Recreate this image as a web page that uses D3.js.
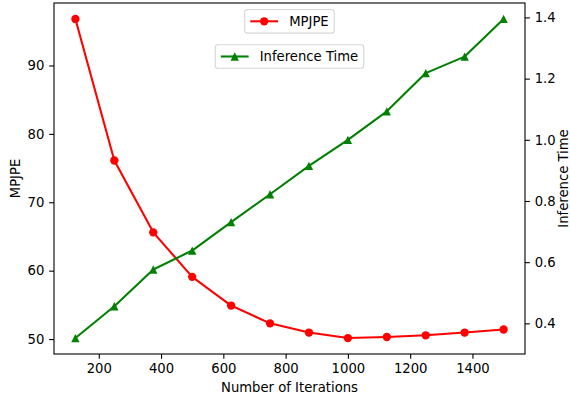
<!DOCTYPE html>
<html>
<head>
<meta charset="utf-8">
<script src="https://cdn.jsdelivr.net/npm/d3@7"></script>
<style>
  body { margin: 0; background: #fff; }
  svg { display: block; font-family: "DejaVu Sans", sans-serif; }
</style>
</head>
<body>
<svg id="chart"></svg>
<script>
// data
const iterations = [125, 250, 375, 500, 625, 750, 875, 1000, 1125, 1250, 1375, 1500];
const mpjpe = [96.8, 76.1, 65.6, 59.1, 54.9, 52.3, 50.95, 50.15, 50.3, 50.55, 50.95, 51.4];
const inferenceTime = [0.352, 0.456, 0.576, 0.638, 0.731, 0.822, 0.915, 1.0, 1.093, 1.218, 1.272, 1.395];
const xTicks = [200, 400, 600, 800, 1000, 1200, 1400];
const leftTicks = [50, 60, 70, 80, 90];
const rightTicks = [0.4, 0.6, 0.8, 1.0, 1.2, 1.4];

function getConfig(){
    let width = 570;
    let height = 398;
    let margin = { top: 3, bottom: 44, left: 54, right: 45 };
    let bodyWidth = width - margin.left - margin.right;
    let bodyHeight = height - margin.top - margin.bottom;
    let fs = 13.2;
    let container = d3.select('#chart').attr('width', width).attr('height', height);
    return { width, height, margin, bodyWidth, bodyHeight, fs, container };
}

// matplotlib-style 5% padding around the data
function padded(values){
    let [lo, hi] = d3.extent(values);
    let p = (hi - lo) * 0.05;
    return [lo - p, hi + p];
}

function getScales(config){
    let xScale = d3.scaleLinear().domain(padded(iterations)).range([0, config.bodyWidth]);
    let yLeft = d3.scaleLinear().domain(padded(mpjpe)).range([config.bodyHeight, 0]);
    let yRight = d3.scaleLinear().domain(padded(inferenceTime)).range([config.bodyHeight, 0]);
    return { xScale, yLeft, yRight };
}

function styleAxis(g, fs){
    g.selectAll('text').attr('font-size', fs).attr('fill', '#000').attr('font-family', '"DejaVu Sans", sans-serif');
    g.selectAll('line').attr('stroke', '#000').attr('stroke-width', 1.1);
    g.select('.domain').remove();
}

function drawAxes(scales, config){
    let { xScale, yLeft, yRight } = scales;
    let { container, margin, bodyWidth, bodyHeight, fs } = config;
    let tick = 4.86, pad = 4.86;

    container.append('g')
        .attr('transform', `translate(${margin.left},${margin.top + bodyHeight})`)
        .call(d3.axisBottom(xScale).tickValues(xTicks).tickSize(tick).tickPadding(pad).tickFormat(d3.format('d')))
        .call(g => styleAxis(g, fs));

    container.append('g')
        .attr('transform', `translate(${margin.left},${margin.top})`)
        .call(d3.axisLeft(yLeft).tickValues(leftTicks).tickSize(tick).tickPadding(pad).tickFormat(d3.format('d')))
        .call(g => styleAxis(g, fs));

    container.append('g')
        .attr('transform', `translate(${margin.left + bodyWidth},${margin.top})`)
        .call(d3.axisRight(yRight).tickValues(rightTicks).tickSize(tick).tickPadding(pad).tickFormat(d3.format('.1f')))
        .call(g => styleAxis(g, fs));

    // frame
    container.append('rect')
        .attr('x', margin.left).attr('y', margin.top)
        .attr('width', bodyWidth).attr('height', bodyHeight)
        .attr('fill', 'none').attr('stroke', '#000').attr('stroke-width', 1.1);

    // axis titles
    container.append('text')
        .attr('x', margin.left + bodyWidth / 2).attr('y', 392)
        .attr('text-anchor', 'middle').attr('font-size', fs)
        .text('Number of Iterations');

    container.append('text')
        .attr('transform', `translate(20,${margin.top + bodyHeight / 2}) rotate(-90)`)
        .attr('text-anchor', 'middle').attr('font-size', fs)
        .text('MPJPE');

    container.append('text')
        .attr('transform', `translate(567.5,${margin.top + bodyHeight / 2}) rotate(-90)`)
        .attr('text-anchor', 'middle').attr('font-size', fs)
        .text('Inference Time');
}

const triangle = r => `M0,${-r}L${r},${r}L${-r},${r}Z`;

function drawSeries(values, yScale, color, marker, scales, config){
    let { xScale } = scales;
    let { container, margin } = config;
    let body = container.append('g').attr('transform', `translate(${margin.left},${margin.top})`);
    let pts = iterations.map((x, i) => [xScale(x), yScale(values[i])]);

    body.append('path')
        .attr('d', d3.line()(pts))
        .attr('fill', 'none').attr('stroke', color).attr('stroke-width', 2.08)
        .attr('stroke-linejoin', 'round');

    if (marker === 'circle') {
        body.selectAll('.m').data(pts).enter().append('circle')
            .attr('cx', d => d[0]).attr('cy', d => d[1]).attr('r', 4.17)
            .attr('fill', color);
    } else {
        body.selectAll('.m').data(pts).enter().append('path')
            .attr('transform', d => `translate(${d[0]},${d[1]})`)
            .attr('d', triangle(4.17))
            .attr('fill', color);
    }
}

function drawLegend(label, color, marker, top, config){
    let { container, margin, bodyWidth, fs } = config;
    let g = container.append('g');
    let text = g.append('text').attr('font-size', fs).text(label);
    let tw = text.node().getComputedTextLength();
    let padX = 5.56, handle = 27.8, gap = 11.1;
    let w = padX + handle + gap + tw + padX;
    let h = 23.6;
    let left = margin.left + bodyWidth / 2 - w / 2;

    g.insert('rect', 'text')
        .attr('x', left).attr('y', top).attr('width', w).attr('height', h)
        .attr('rx', 2.8).attr('fill', '#fff').attr('fill-opacity', 0.8)
        .attr('stroke', '#d6d6d6').attr('stroke-width', 1.1);

    let cy = top + h / 2;
    let hx = left + padX;
    g.append('line')
        .attr('x1', hx).attr('x2', hx + handle).attr('y1', cy).attr('y2', cy)
        .attr('stroke', color).attr('stroke-width', 2.08);
    if (marker === 'circle') {
        g.append('circle').attr('cx', hx + handle / 2).attr('cy', cy).attr('r', 4.17).attr('fill', color);
    } else {
        g.append('path').attr('transform', `translate(${hx + handle / 2},${cy})`).attr('d', triangle(4.17)).attr('fill', color);
    }
    text.attr('x', hx + handle + gap).attr('y', cy + 4.8);
}

function drawChart(){
    let config = getConfig();
    let scales = getScales(config);
    drawAxes(scales, config);
    drawSeries(mpjpe, scales.yLeft, '#ff0000', 'circle', scales, config);
    drawSeries(inferenceTime, scales.yRight, '#008000', 'triangle', scales, config);
    drawLegend('MPJPE', '#ff0000', 'circle', 9.5, config);
    drawLegend('Inference Time', '#008000', 'triangle', 44.7, config);
}

drawChart();
</script>
</body>
</html>
